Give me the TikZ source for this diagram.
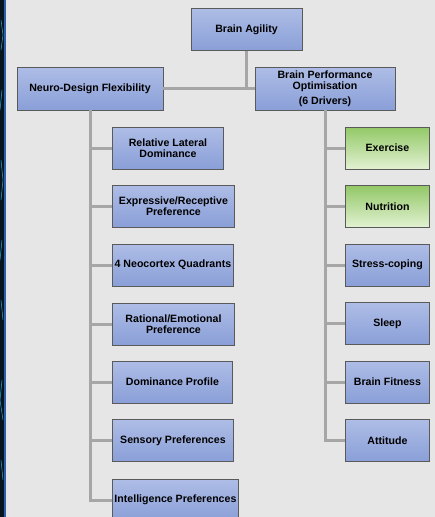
\documentclass[tikz,border=0pt]{standalone}
\usepackage{fontspec}
\setmainfont{Liberation Sans}
\usepackage{tikz}
\usetikzlibrary{positioning}
\definecolor{bgray}{HTML}{E6E6E6}
\definecolor{lgray}{HTML}{A6A6A6}
\definecolor{edgegray}{HTML}{5A5A5A}
\definecolor{bluetop}{HTML}{AEBDE6}
\definecolor{bluebot}{HTML}{8A9FD8}
\definecolor{greentop}{HTML}{92C866}
\definecolor{greenbot}{HTML}{E2F1D2}
\definecolor{stripdark}{HTML}{06151D}
\definecolor{stripblue}{HTML}{2F5FA8}
\definecolor{stripcyan}{HTML}{2FA8D0}

\begin{document}
\begin{tikzpicture}[x=1pt,y=-1pt,
    box/.style={draw=edgegray,line width=0.9pt,top color=bluetop,bottom color=bluebot,
      minimum height=42pt,inner sep=1pt,align=center,
      font=\bfseries\fontsize{10.6}{11.5}\selectfont},
    gbox/.style={box,top color=greentop,bottom color=greenbot},
    link/.style={draw=lgray,line width=3pt}]
    \useasboundingbox(0,0)rectangle(435,517);
    \clip(0,0)rectangle(435,517);
    \fill[bgray](0,0)rectangle(435,517);
    % left strip
    \fill[stripdark](0,0)rectangle(4,517);
    \fill[stripblue](4,0)rectangle(6,517);
    \draw[stripcyan,line width=0.5pt](1,20)--(3,35)--(1,50)(2,90)--(0,110)(1,160)--(3,180)--(1,200)
      (2,240)--(0,260)(1,300)--(3,320)(2,380)--(0,400)--(3,420)(1,460)--(3,480);
    % top levels
    \node[box,minimum width=111pt](agility)at(246.5,29.5){Brain Agility};
    \node[box,minimum width=146pt,minimum height=43pt](neuro)at(90,88.5){Neuro-Design Flexibility};
    \node[box,minimum width=140pt,minimum height=43pt](perf)at(325,88.5){Brain Performance\\Optimisation\\[3pt](6 Drivers)};
    % left branch
    \node[box,minimum width=111pt,anchor=west](lateral)at(112,148){Relative Lateral\\Dominance};
    \node[box,minimum width=122pt,anchor=west](express)at(112,206){Expressive/Receptive\\Preference};
    \node[box,minimum width=121pt,anchor=west](neocortex)at(112,265){4 Neocortex Quadrants};
    \node[box,minimum width=122pt,anchor=west](rational)at(112,324){Rational/Emotional\\Preference};
    \node[box,minimum width=120pt,anchor=west](dominance)at(112,382){Dominance Profile};
    \node[box,minimum width=121pt,anchor=west](sensory)at(112,440.5){Sensory Preferences};
    \node[box,minimum width=126pt,anchor=west](intel)at(112,500){Intelligence Preferences};
    % right branch
    \node[gbox,minimum width=84pt,anchor=west](exercise)at(345,148){Exercise};
    \node[gbox,minimum width=84pt,anchor=west](nutrition)at(345,206.5){Nutrition};
    \node[box,minimum width=84pt,anchor=west](stress)at(345,265){Stress-coping};
    \node[box,minimum width=84pt,anchor=west](sleep)at(345,323.5){Sleep};
    \node[box,minimum width=84pt,anchor=west](fitness)at(345,382){Brain Fitness};
    \node[box,minimum width=84pt,anchor=west](attitude)at(345,440.5){Attitude};
    % connectors
    \draw[link](neuro.east)--(perf.west);
    \draw[link](agility.south)--(agility.south|-perf.west);
    \draw[link](neuro.south)|-(intel.west);
    \foreach \k in {lateral,express,neocortex,rational,dominance,sensory}
      \draw[link](neuro.south|-\k.west)--(\k.west);
    \draw[link](perf.south)|-(attitude.west);
    \foreach \k in {exercise,nutrition,stress,sleep,fitness}
      \draw[link](perf.south|-\k.west)--(\k.west);
  \end{tikzpicture}
\end{document}
